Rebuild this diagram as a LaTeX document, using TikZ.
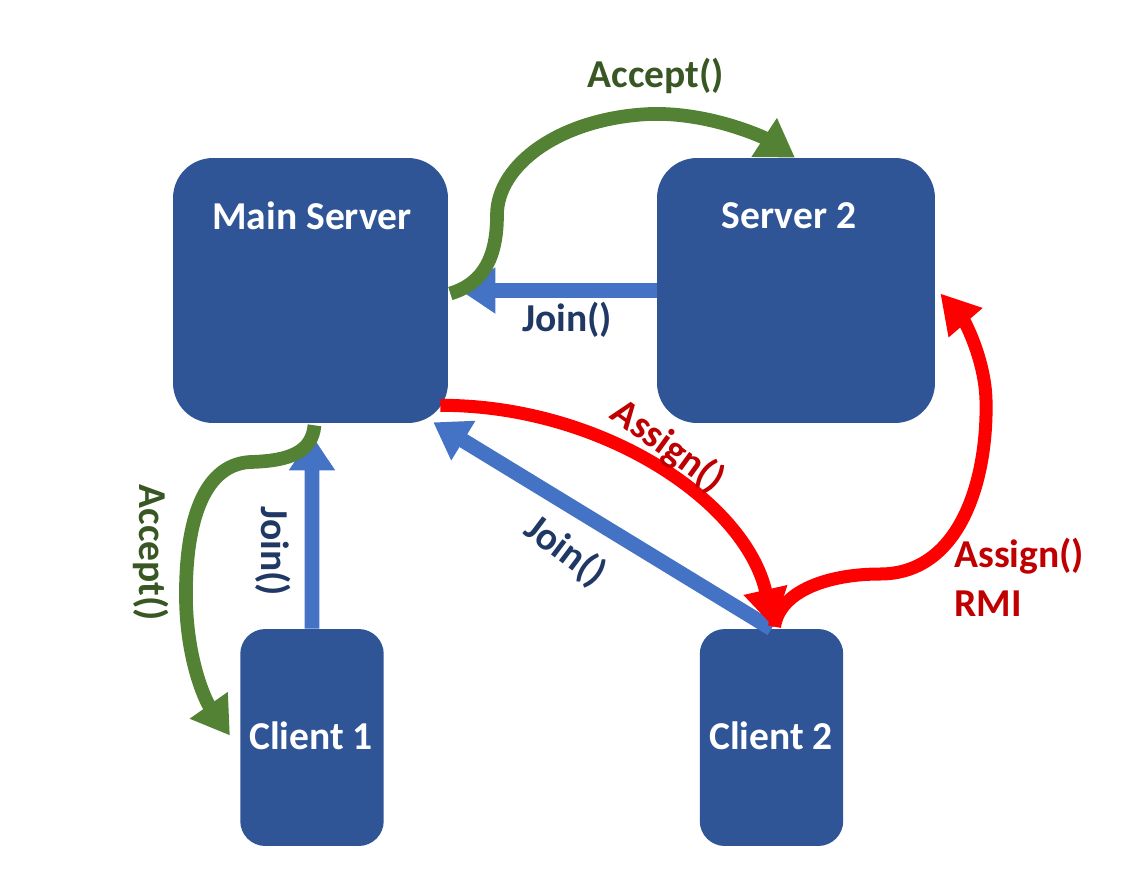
\documentclass[tikz,border=0pt]{standalone}
\usepackage{fontspec}
\setmainfont{Carlito}
\usetikzlibrary{arrows.meta,calc}
\definecolor{boxblue}{HTML}{2F5597}
\definecolor{arrblue}{HTML}{4472C4}
\definecolor{arrgreen}{HTML}{548235}
\definecolor{txtgreen}{HTML}{385723}
\definecolor{arrred}{HTML}{FF0000}
\definecolor{txtred}{HTML}{C00000}
\definecolor{txtblue}{HTML}{1F3864}
\tikzset{
  box/.style={fill=boxblue,draw=none,inner sep=0pt,rounded corners=0.8cm},
  cbox/.style={fill=boxblue,draw=none,inner sep=0pt,rounded corners=0.5cm,minimum width=2.87cm,minimum height=4.34cm},
  lbl/.style={font=\fontsize{22.5pt}{26pt}\selectfont\bfseries,inner sep=0pt},
  boxlbl/.style={lbl,text=white,anchor=base},
  bluearr/.style={draw=arrblue,line width=8.5pt,-{Triangle[length=20pt,width=25pt]}},
  greenarr/.style={draw=arrgreen,line width=7.8pt,-{Triangle[length=21pt,width=25pt]}},
  redarr/.style={draw=arrred,line width=7.4pt,-{Triangle[length=22pt,width=24pt]}},
}
\begin{document}
\begin{tikzpicture}[x=0.02cm,y=-0.02cm]
\useasboundingbox (0,0) rectangle (1137,883);
% boxes
\node[box,minimum width=5.5cm,minimum height=5.3cm] (ms) at (310.5,290.5) {};
\node[box,minimum width=5.56cm,minimum height=5.3cm] (s2) at (796,290.5) {};
\node[cbox] (c1) at (312,737.5) {};
\node[cbox] (c2) at (771.5,737.5) {};
% box labels
\node[boxlbl] (msl) at (312,229) {Main Server};
\node[boxlbl] (s2l) at (789,228) {Server 2};
\node[boxlbl] (c1l) at (311,749) {Client 1};
\node[boxlbl] (c2l) at (771,749) {Client 2};
% blue join arrows
\draw[bluearr] (s2.west) -- ($(ms.east)+(12,0)$);
\draw[bluearr] (c1.north) -- ($(ms.south)+(1.5,12)$);
\draw[bluearr] (c2.north) -- ($(ms.south east)+(-15,-1)$);
% green accept arrows
\draw[greenarr] ($(ms.east)+(2,3)$) .. controls (485,283) and (497,255) .. (497,215)
  .. controls (497,165) and (560,118) .. (650,114)
  .. controls (710,112) and (765,138) .. ($(s2.north)+(-1,0)$);
\draw[greenarr] ($(ms.south)+(4,2)$) .. controls (312,452) and (290,461) .. (250,462)
  .. controls (200,465) and (185,530) .. (186,600)
  .. controls (187,660) and (205,700) .. ($(c1.west)+(-10,-2)$);
% red assign arrows
\draw[redarr] ($(ms.south east)+(-8,-18)$) .. controls (600,405) and (745,500) .. ($(c2.north)+(2.5,-1)$);
\draw[redarr] ($(c2.north)+(3,-2)$) .. controls (780,590) and (830,574) .. (880,574)
  .. controls (960,574) and (988,480) .. (986,400)
  .. controls (985,360) and (965,322) .. ($(s2.east)+(5,3)$);
% labels
\node[lbl,text=txtgreen,anchor=base] (acc1) at (656,87) {Accept()};
\node[lbl,text=txtblue,anchor=base] (join1) at (567,331) {Join()};
\node[lbl,text=txtblue,rotate=-90] (join2) at (273,551) {Join()};
\node[lbl,text=txtgreen,rotate=-90] (acc2) at (151,553) {Accept()};
\node[lbl,text=txtred,rotate=-36] (asg1) at (668,446) {Assign()};
\node[lbl,text=txtblue,rotate=-37] (join3) at (565,551) {Join()};
\node[lbl,text=txtred,anchor=base west] (asg2) at (954,567) {Assign()};
\node[lbl,text=txtred,anchor=base west] (rmi) at (954,616) {RMI};
\end{tikzpicture}
\end{document}
